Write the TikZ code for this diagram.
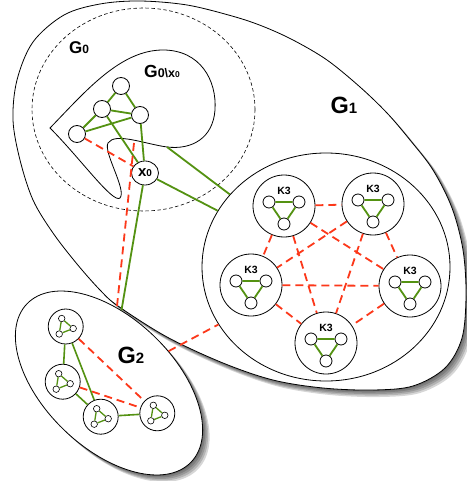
\documentclass[tikz,border=0pt]{standalone}
\usepackage{fontspec}
\setmainfont{Liberation Sans}
\usetikzlibrary{shapes.geometric}
\definecolor{gr}{RGB}{84,146,18}
\definecolor{rd}{RGB}{252,56,26}
\tikzset{
 vtx/.style={circle, draw, line width=0.8pt, fill=white, minimum size=17pt, inner sep=0pt},
 kbox/.style={circle, draw, line width=0.8pt, minimum size=62pt, inner sep=0pt},
 kv/.style={circle, draw, line width=0.8pt, fill=white, minimum size=12pt, inner sep=0pt},
 gbox/.style={circle, draw, line width=0.8pt, minimum size=35pt, inner sep=0pt},
 tv/.style={circle, draw, line width=0.6pt, fill=white, minimum size=6.5pt, inner sep=0pt},
 ge/.style={draw=gr, line width=1.8pt},
 gte/.style={draw=gr, line width=1.3pt},
 re/.style={draw=rd, line width=1.8pt, dash pattern=on 8pt off 5pt},
 lbl/.style={font=\bfseries, inner sep=0pt},
}
\newcommand{\gonepath}[1]{\path[#1] plot[smooth cycle, tension=0.55] coordinates {
 (13,120) (17,80) (33,42) (64,15) (100,4) (140,1) (187,5) (232,16) (262,26)
 (293,40) (327,60) (360,87) (387,113) (410,140) (433,170) (452,208) (463,250)
 (466,295) (462,338) (445,368) (413,386) (373,390) (323,388) (273,380) (223,363)
 (167,337) (118,306) (100,290) (77,264) (53,233) (33,200) (20,160)};}
\newcommand{\kclust}[2]{%
 \node[kbox] (#1) at (#2) {};
 \begin{scope}[shift={(#2)}]
  \node[lbl, font=\bfseries\fontsize{10.5}{10.5}\selectfont] (#1t) at (0,-15.5) {K3};
  \node[kv] (#1l) at (-15,-4) {};
  \node[kv] (#1r) at (15,-4) {};
  \node[kv] (#1b) at (0,18) {};
  \draw[ge] (#1l) -- (#1r) (#1l) -- (#1b) (#1r) -- (#1b);
 \end{scope}}
\newcommand{\tclust}[2]{%
 \node[gbox] (#1) at (#2) {};
 \begin{scope}[shift={(#2)}]
  \node[tv] (#1a) at (-4,-8) {};
  \node[tv] (#1b) at (7.5,2) {};
  \node[tv] (#1c) at (-6.5,7.5) {};
  \draw[gte] (#1a) -- (#1b) -- (#1c) -- (#1a);
 \end{scope}}
\begin{document}
\begin{tikzpicture}[x=1pt,y=-1pt]
\useasboundingbox (0,0) rectangle (466,481);
% G1 region with soft shadow
\foreach \s in {1,2.5,4,5.5,7} {\gonepath{fill=black, fill opacity=0.16, shift={(\s,\s)}}}
\gonepath{fill=white, draw=black, line width=0.8pt}
% G2 region with soft shadow
\foreach \s in {1,2.5,4,5.5,7} {\node[ellipse, fill=black, fill opacity=0.16, minimum width=228pt, minimum height=130pt, inner sep=0pt, rotate=-44] at (109+\s,383+\s) {};}
\node[ellipse, draw, line width=0.8pt, fill=white, minimum width=228pt, minimum height=130pt, inner sep=0pt, rotate=-44] (G2) at (109,383) {};
% G0 dashed region
\node[ellipse, draw, line width=0.6pt, dash pattern=on 3.5pt off 2.5pt, minimum width=223pt, minimum height=203pt, inner sep=0pt] (G0) at (143.5,109.5) {};
% G0 \ x0 blob
\draw[line width=0.8pt] (50,128) .. controls (85,92) and (120,50) .. (163,50)
 .. controls (200,50) and (217,80) .. (215,110)
 .. controls (213,138) and (192,150) .. (167,147)
 .. controls (145,144) and (115,132) .. (108,143)
 .. controls (103,152) and (127,190) .. (120,198)
 .. controls (113,204) and (80,158) .. (50,128) -- cycle;
\coordinate (b1) at (167,147);
\coordinate (b2) at (134,143);
% inner circle of G1
\node[ellipse, draw, line width=0.8pt, minimum width=248pt, minimum height=228pt, inner sep=0pt] (in) at (326,267) {};
% labels
\node[lbl] (lG0) at (79,48) {\fontsize{17}{17}\selectfont G\fontsize{12}{12}\selectfont 0};
\node[lbl] (lG0x) at (162,72) {\fontsize{17.5}{17.5}\selectfont G\fontsize{12.5}{12.5}\selectfont 0\textbackslash x\fontsize{8.5}{8.5}\selectfont 0};
\node[lbl] (lG1) at (344,105) {\fontsize{23.5}{23.5}\selectfont G\fontsize{15}{15}\selectfont 1};
\node[lbl] (lG2) at (131,355) {\fontsize{23.5}{23.5}\selectfont G\fontsize{15}{15}\selectfont 2};
% G0 vertices
\node[vtx] (a) at (121,86) {};
\node[vtx] (b) at (102,109) {};
\node[vtx] (c) at (140,115) {};
\node[vtx] (d) at (77,134) {};
\node[ellipse, draw, line width=0.8pt, fill=white, minimum width=27pt, minimum height=24pt, inner sep=0pt, font=\bfseries] (x0) at (145,173) {\fontsize{15}{15}\selectfont x\fontsize{10}{10}\selectfont 0};
\draw[ge] (a) -- (b) (a) -- (c) (b) -- (c) (b) -- (d) (d) -- (c) (b) -- (x0) (c) -- (x0);
\draw[re] (d) -- (x0);
% links between regions
\draw[ge] (b1) -- (in);
\draw[ge] (x0) -- (in);
\draw[ge] (x0) -- (G2);
\draw[re] (b2) -- (G2);
\draw[re] (G2) -- (in);
% K3 clusters
\kclust{ka}{284,206}
\kclust{kb}{373,204}
\kclust{kc}{251,285}
\kclust{kd}{410,286}
\kclust{ke}{326,343}
\draw[re] (ka) -- (kb) (ka) -- (kc) (ka) -- (kd) (ka) -- (ke) (kb) -- (kc)
 (kb) -- (kd) (kb) -- (ke) (kc) -- (kd) (kc) -- (ke) (kd) -- (ke);
% G2 clusters
\tclust{ca}{65.7,326.5}
\tclust{cb}{62.7,381.7}
\tclust{cc}{100.7,416.7}
\tclust{cd}{157.3,413.3}
\draw[ge, line width=1.6pt] (ca) -- (cb) (ca) -- (cc) (cb) -- (cc) (cc) -- (cd);
\draw[re] (ca) -- (cd) (cb) -- (cd);
\end{tikzpicture}
\end{document}
